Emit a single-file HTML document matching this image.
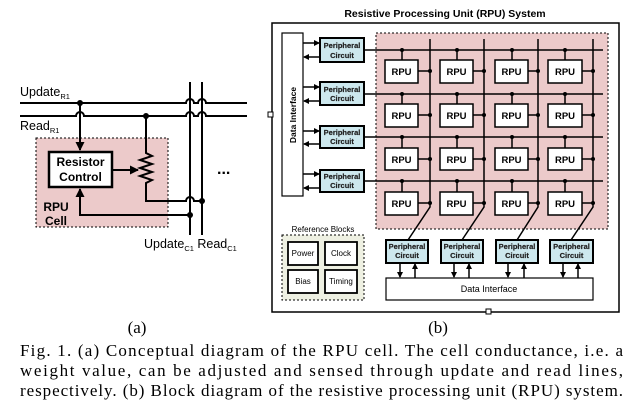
<!DOCTYPE html>
<html><head><meta charset="utf-8"><style>
html,body{margin:0;padding:0;background:#fff;}
svg{display:block;}
.s{font-family:"Liberation Sans",Arial,sans-serif;font-weight:bold;}
.t{font-family:"Liberation Serif","Times New Roman",serif;}
</style></head><body>
<svg width="633" height="409" viewBox="0 0 633 409" xmlns="http://www.w3.org/2000/svg">
<defs>
<marker id="ah" markerWidth="6" markerHeight="6" refX="5" refY="3" orient="auto" markerUnits="userSpaceOnUse"><path d="M0,0 L6,3 L0,6 z" fill="#000"/></marker>
<marker id="ab" markerWidth="9" markerHeight="9" refX="8" refY="4.5" orient="auto" markerUnits="userSpaceOnUse"><path d="M0,0 L9,4.5 L0,9 z" fill="#000"/></marker>
</defs>
<rect x="36" y="138" width="132" height="89" fill="#eccaca" stroke="#000" stroke-dasharray="2,2" stroke-width="1"/>
<g stroke="#000" stroke-width="2" fill="none">
<path d="M20,103 H186 a4,4 0 0 1 8,0 H198 a4,4 0 0 1 8,0 H247"/>
<path d="M20,116 H76 a4,4 0 0 1 8,0 H186 a4,4 0 0 1 8,0 H198 a4,4 0 0 1 8,0 H247"/>
<line x1="190" y1="82" x2="190" y2="235"/>
<line x1="202" y1="82" x2="202" y2="235"/>
<line x1="80" y1="103" x2="80" y2="150" marker-end="url(#ab)"/>
<path d="M146,116 V153 l6,3 l-12,4 l12,4 l-12,4 l12,4 l-12,4 l12,4 l-6,3 V201 H186 a4,4 0 0 1 8,0 H202"/>
<line x1="112" y1="170" x2="138" y2="170" marker-end="url(#ab)"/>
<path d="M190,215 H80 V189" marker-end="url(#ab)"/>
</g>
<rect x="49" y="152" width="63" height="35" fill="#fff" stroke="#000" stroke-width="2.5"/>
<g fill="#000"><circle cx="80" cy="103" r="3"/><circle cx="146" cy="116" r="3"/><circle cx="202" cy="201" r="3"/><circle cx="190" cy="215" r="3"/></g>
<text class="s" x="80.5" y="166" font-size="12" text-anchor="middle">Resistor</text>
<text class="s" x="80.5" y="181" font-size="12" text-anchor="middle">Control</text>
<text class="s" x="56" y="211" font-size="12" text-anchor="middle">RPU</text>
<text class="s" x="56" y="225" font-size="12" text-anchor="middle">Cell</text>
<text class="s" x="217" y="174" font-size="16">...</text>
<text class="s" x="20" y="96" font-size="12.5" style="font-weight:normal">Update<tspan font-size="7.5" dy="3">R1</tspan></text>
<text class="s" x="20" y="130" font-size="12.5" style="font-weight:normal">Read<tspan font-size="7.5" dy="3">R1</tspan></text>
<text class="s" x="144" y="248" font-size="12.5" style="font-weight:normal">Update<tspan font-size="7.5" dy="3">C1</tspan><tspan dy="-3"> Read</tspan><tspan font-size="7.5" dy="3">C1</tspan></text>

<text class="s" x="445" y="17" font-size="10.5" text-anchor="middle">Resistive Processing Unit (RPU) System</text>
<rect x="272" y="23" width="347" height="289" fill="#fff" stroke="#000" stroke-width="1.5"/>
<rect x="376" y="33" width="232" height="196" fill="#eccaca" stroke="#000" stroke-dasharray="2,2" stroke-width="1"/>
<rect x="282" y="33" width="21" height="163" fill="#fff" stroke="#000" stroke-width="1.2"/>
<text class="s" font-size="8.5" transform="translate(296,115) rotate(-90)" text-anchor="middle">Data Interface</text>
<rect x="268" y="112" width="5" height="5" fill="#fff" stroke="#000"/>
<rect x="486" y="309" width="5" height="5" fill="#fff" stroke="#000"/>
<g stroke="#000" stroke-width="1.5" fill="none">
<line x1="364" y1="50" x2="603" y2="50"/><line x1="364" y1="94" x2="603" y2="94"/>
<line x1="364" y1="137" x2="603" y2="137"/><line x1="364" y1="181" x2="603" y2="181"/>
<path d="M430,39 V207 L408,240"/><path d="M484,39 V207 L462,240"/>
<path d="M538,39 V207 L517,240"/><path d="M593,39 V207 L571,240"/>
<line x1="303" y1="43" x2="319" y2="43" marker-end="url(#ah)"/><line x1="320" y1="57" x2="304" y2="57" marker-end="url(#ah)"/>
<line x1="303" y1="87" x2="319" y2="87" marker-end="url(#ah)"/><line x1="320" y1="101" x2="304" y2="101" marker-end="url(#ah)"/>
<line x1="303" y1="131" x2="319" y2="131" marker-end="url(#ah)"/><line x1="320" y1="144" x2="304" y2="144" marker-end="url(#ah)"/>
<line x1="303" y1="174" x2="319" y2="174" marker-end="url(#ah)"/><line x1="320" y1="188" x2="304" y2="188" marker-end="url(#ah)"/>
<line x1="400" y1="263" x2="400" y2="277" marker-end="url(#ah)"/><line x1="415" y1="278" x2="415" y2="264" marker-end="url(#ah)"/>
<line x1="454" y1="263" x2="454" y2="277" marker-end="url(#ah)"/><line x1="469" y1="278" x2="469" y2="264" marker-end="url(#ah)"/>
<line x1="508" y1="263" x2="508" y2="277" marker-end="url(#ah)"/><line x1="524" y1="278" x2="524" y2="264" marker-end="url(#ah)"/>
<line x1="563" y1="263" x2="563" y2="277" marker-end="url(#ah)"/><line x1="578" y1="278" x2="578" y2="264" marker-end="url(#ah)"/>
</g>
<g stroke="#000" stroke-width="1.5">
<path d="M402,50V60 M457,50V60 M512,50V60 M565,50V60 M402,94V104 M457,94V104 M512,94V104 M565,94V104 M402,137V148 M457,137V148 M512,137V148 M565,137V148 M402,181V192 M457,181V192 M512,181V192 M565,181V192"/>
<path d="M418,71H430 M473,71H484 M528,71H538 M582,71H593 M418,115H430 M473,115H484 M528,115H538 M582,115H593 M418,159H430 M473,159H484 M528,159H538 M582,159H593 M418,203H430 M473,203H484 M528,203H538 M582,203H593"/>
</g>
<g fill="#fff" stroke="#000" stroke-width="1.5">
<rect x="385" y="60" width="33" height="23"/><rect x="440" y="60" width="33" height="23"/><rect x="495" y="60" width="33" height="23"/><rect x="548" y="60" width="34" height="23"/>
<rect x="385" y="104" width="33" height="23"/><rect x="440" y="104" width="33" height="23"/><rect x="495" y="104" width="33" height="23"/><rect x="548" y="104" width="34" height="23"/>
<rect x="385" y="148" width="33" height="22"/><rect x="440" y="148" width="33" height="22"/><rect x="495" y="148" width="33" height="22"/><rect x="548" y="148" width="34" height="22"/>
<rect x="385" y="192" width="33" height="23"/><rect x="440" y="192" width="33" height="23"/><rect x="495" y="192" width="33" height="23"/><rect x="548" y="192" width="34" height="23"/>
</g>
<g fill="#000">
<circle cx="402" cy="50" r="2"/><circle cx="457" cy="50" r="2"/><circle cx="512" cy="50" r="2"/><circle cx="565" cy="50" r="2"/>
<circle cx="402" cy="94" r="2"/><circle cx="457" cy="94" r="2"/><circle cx="512" cy="94" r="2"/><circle cx="565" cy="94" r="2"/>
<circle cx="402" cy="137" r="2"/><circle cx="457" cy="137" r="2"/><circle cx="512" cy="137" r="2"/><circle cx="565" cy="137" r="2"/>
<circle cx="402" cy="181" r="2"/><circle cx="457" cy="181" r="2"/><circle cx="512" cy="181" r="2"/><circle cx="565" cy="181" r="2"/>
<circle cx="430" cy="71" r="2"/><circle cx="484" cy="71" r="2"/><circle cx="538" cy="71" r="2"/><circle cx="593" cy="71" r="2"/>
<circle cx="430" cy="115" r="2"/><circle cx="484" cy="115" r="2"/><circle cx="538" cy="115" r="2"/><circle cx="593" cy="115" r="2"/>
<circle cx="430" cy="159" r="2"/><circle cx="484" cy="159" r="2"/><circle cx="538" cy="159" r="2"/><circle cx="593" cy="159" r="2"/>
<circle cx="430" cy="203" r="2"/><circle cx="484" cy="203" r="2"/><circle cx="538" cy="203" r="2"/><circle cx="593" cy="203" r="2"/>
</g>
<g class="s" font-size="9.5" text-anchor="middle">
<text x="401.5" y="75">RPU</text><text x="456.5" y="75">RPU</text><text x="511.5" y="75">RPU</text><text x="565" y="75">RPU</text>
<text x="401.5" y="119">RPU</text><text x="456.5" y="119">RPU</text><text x="511.5" y="119">RPU</text><text x="565" y="119">RPU</text>
<text x="401.5" y="163">RPU</text><text x="456.5" y="163">RPU</text><text x="511.5" y="163">RPU</text><text x="565" y="163">RPU</text>
<text x="401.5" y="207">RPU</text><text x="456.5" y="207">RPU</text><text x="511.5" y="207">RPU</text><text x="565" y="207">RPU</text>
</g>
<g fill="#cde8ee" stroke="#000" stroke-width="2">
<rect x="320" y="38" width="44" height="24"/><rect x="320" y="82" width="44" height="23"/>
<rect x="320" y="126" width="44" height="22"/><rect x="320" y="170" width="44" height="22"/>
<rect x="386" y="240" width="42" height="23"/><rect x="441" y="240" width="42" height="23"/>
<rect x="496" y="240" width="42" height="23"/><rect x="550" y="240" width="43" height="23"/>
</g>
<g class="s" font-size="7.5" text-anchor="middle" fill="#222" stroke="#222" stroke-width="0.2">
<text x="342" y="48">Peripheral</text><text x="342" y="58">Circuit</text>
<text x="342" y="92">Peripheral</text><text x="342" y="101">Circuit</text>
<text x="342" y="135">Peripheral</text><text x="342" y="144">Circuit</text>
<text x="342" y="179">Peripheral</text><text x="342" y="188">Circuit</text>
<text x="407" y="249">Peripheral</text><text x="407" y="258">Circuit</text>
<text x="462" y="249">Peripheral</text><text x="462" y="258">Circuit</text>
<text x="517" y="249">Peripheral</text><text x="517" y="258">Circuit</text>
<text x="571.5" y="249">Peripheral</text><text x="571.5" y="258">Circuit</text>
</g>
<rect x="386" y="278" width="207" height="22" fill="#fff" stroke="#000" stroke-width="1.2"/>
<text class="s" x="489" y="292" font-size="9" text-anchor="middle" style="font-weight:normal">Data Interface</text>
<text class="s" x="323" y="232" font-size="8" text-anchor="middle" style="font-weight:normal">Reference Blocks</text>
<rect x="282" y="235" width="82" height="65" fill="#eef0e2" stroke="#000" stroke-dasharray="2,2"/>
<g fill="#fff" stroke="#000" stroke-width="1.8">
<rect x="288" y="242" width="30" height="23"/><rect x="325" y="242" width="32" height="23"/>
<rect x="288" y="270" width="30" height="23"/><rect x="325" y="270" width="32" height="23"/>
</g>
<g class="s" font-size="8" text-anchor="middle" style="font-weight:normal">
<text x="303" y="256">Power</text><text x="341" y="256">Clock</text>
<text x="303" y="284">Bias</text><text x="341" y="284">Timing</text>
</g>
<g class="t" font-size="17">
<text x="137" y="333" text-anchor="middle">(a)</text>
<text x="438" y="333" text-anchor="middle">(b)</text>
<text x="20" y="356" textLength="603" lengthAdjust="spacing">Fig. 1. (a) Conceptual diagram of the RPU cell. The cell conductance, i.e. a</text>
<text x="20" y="376" textLength="603" lengthAdjust="spacing">weight value, can be adjusted and sensed through update and read lines,</text>
<text x="20" y="396" textLength="603" lengthAdjust="spacing">respectively.  (b) Block diagram of the resistive processing unit (RPU) system.</text>
</g>
</svg>
</body></html>
